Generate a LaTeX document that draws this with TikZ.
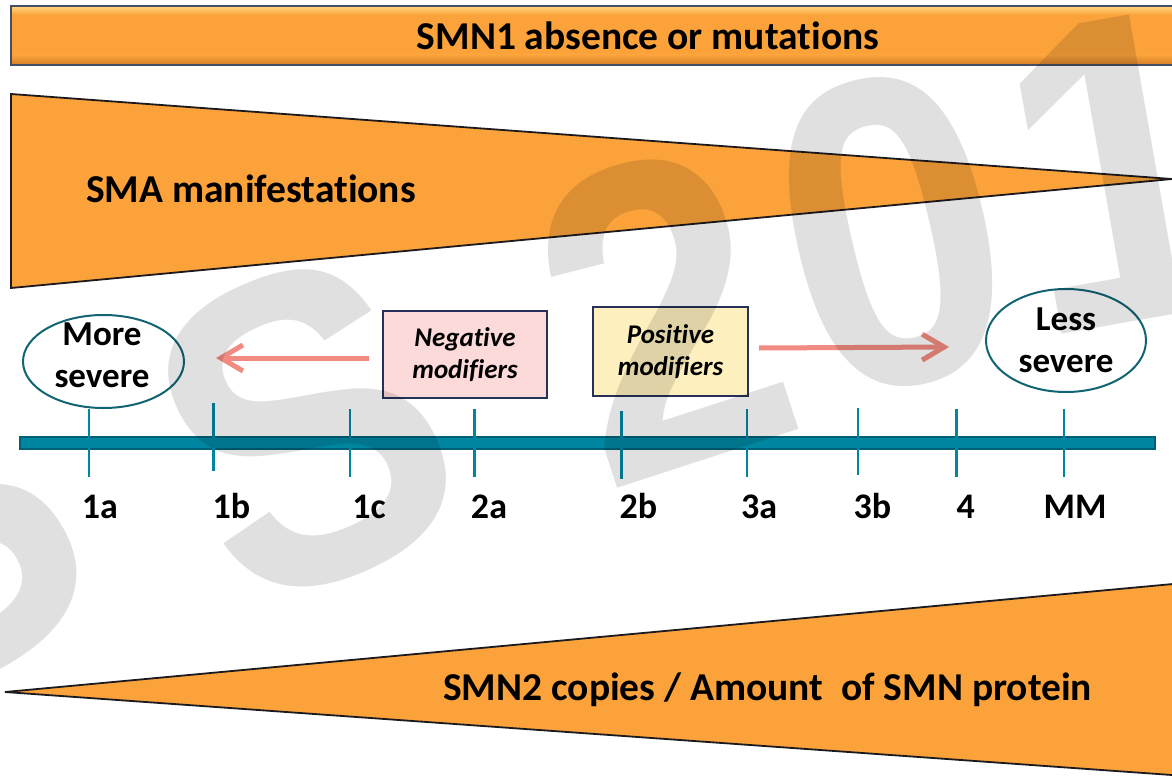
\documentclass[tikz,border=0pt]{standalone}
\usepackage{fontspec}
\setmainfont{Carlito}[Ligatures=NoCommon]
\newfontfamily\wmfont{Liberation Sans}[FakeStretch=0.9]
\usetikzlibrary{arrows.meta,shapes.geometric}

\definecolor{barorange}{RGB}{251,163,58}
\definecolor{barlight}{RGB}{255,214,125}
\definecolor{bardark}{RGB}{212,126,40}
\definecolor{barline}{RGB}{68,78,100}
\definecolor{edgedark}{RGB}{28,26,30}
\definecolor{axisteal}{RGB}{0,134,160}
\definecolor{axisedge}{RGB}{0,96,118}
\definecolor{ringteal}{RGB}{18,100,115}
\definecolor{boxline}{RGB}{38,48,88}
\definecolor{negfill}{RGB}{252,218,218}
\definecolor{posfill}{RGB}{253,240,190}
\definecolor{salmon}{RGB}{241,138,128}

\begin{document}
\begin{tikzpicture}[x=1pt, y=-1pt,
  wedge/.style={fill=barorange, draw=edgedark, line width=1.8pt, line join=miter},
  headline/.style={font=\fontsize{39.5}{44}\selectfont\bfseries, inner sep=0pt},
  lbl/.style={font=\fontsize{36}{40}\selectfont\bfseries, inner sep=0pt, anchor=base},
  ring/.style={ellipse, draw=ringteal, line width=2pt, inner sep=0pt},
  ringtext/.style={font=\fontsize{35}{42}\selectfont\bfseries, inner sep=0pt, align=center, anchor=north},
  modbox/.style={rectangle, draw=boxline, line width=2pt, inner sep=0pt, align=center,
                 font=\fontsize{27}{32}\selectfont\bfseries\itshape},
  modarrow/.style={draw=salmon, line width=5pt, -{Straight Barb[length=22pt,width=26pt]}},
  tickmark/.style={draw=axisteal, line width=2.5pt},
  wmglyph/.style={inner sep=0pt, text=black, text opacity=0.12,
                  font=\wmfont\bfseries\fontsize{440}{440}\selectfont},
]
\useasboundingbox (0,0) rectangle (1172,776);
\fill[white] (0,0) rectangle (1172,776);

\begin{scope}
\clip (0,0) rectangle (1172,776);

% bevelled banner across the top
\fill[barorange] (11,6) rectangle (1190,65);
\shade[top color=barlight, bottom color=barorange] (11,6) rectangle (1190,15);
\shade[top color=barorange, bottom color=bardark] (11,55) rectangle (1190,65);
\draw[barline, line width=1.8pt] (11,6) rectangle (1190,65);
\node[headline, anchor=base] (smn1) at (648,50) {SMN1 absence or mutations};

% wedge narrowing to the right
\path[wedge] (11,94) -- (1172,179) -- (11,288) -- cycle;
\node[headline, anchor=base west] (sma) at (86,202) {SMA manifestations};

% wedge widening to the right
\path[wedge] (5,692) -- (1200,581.5) -- (1200,777) -- cycle;
\node[headline, anchor=base west] (smn2) at (443,700) {SMN2 copies / Amount~ of SMN protein};
\end{scope}

% severity axis
\draw[fill=axisteal, draw=axisedge, line width=1.2pt] (20,437) rectangle (1155,449);
\foreach \x/\t/\b in {89/409/477, 213.5/403/471, 350/409/477, 474.5/409/477,
                      621.5/411/479, 747/409/477, 858/408/475, 956.6/409/477, 1064/409/477}
  \draw[tickmark] (\x,\t) -- (\x,\b);

\node[lbl] (l1a) at (100,518) {1a};
\node[lbl] (l1b) at (231.5,518) {1b};
\node[lbl] (l1c) at (369,518) {1c};
\node[lbl] (l2a) at (489,518) {2a};
\node[lbl] (l2b) at (638.5,518) {2b};
\node[lbl] (l3a) at (759,518) {3a};
\node[lbl] (l3b) at (872.5,518) {3b};
\node[lbl] (l4) at (965.7,518) {4};
\node[lbl] (lmm) at (1075,518) {MM};

% severity poles
\node[ring, minimum width=161pt, minimum height=93pt] (more) at (103.5,361.5) {};
\node[ringtext] (moretext) at (102,323) {More\\severe};
\node[ring, minimum width=160pt, minimum height=103pt] (less) at (1066,340.5) {};
\node[ringtext] (lesstext) at (1066,308) {Less\\severe};

% modifier boxes
\node[modbox, fill=negfill, minimum width=164pt, minimum height=87pt] (neg) at (465,354.5) {Negative\\modifiers};
\node[modbox, fill=posfill, minimum width=155pt, minimum height=89pt] (pos) at (670.5,351.5) {Positive\\modifiers};

\draw[modarrow] ([shift={(-13,3.5)}]neg.west) -- ([shift={(31,-3.5)}]more.east);
\draw[modarrow] ([shift={(10,-3.5)}]pos.east) -- ([shift={(-36,6.5)}]less.west);

% faint watermark glyphs laid over everything, set along a gentle arc
\begin{scope}
\clip (0,0) rectangle (1172,776);
\node[wmglyph, rotate=30] (wmS1) at (-70,530) {S};
\node[wmglyph, rotate=24] (wmS2) at (305,428) {S};
\node[wmglyph, rotate=18] (wm2) at (662,312) {2};
\node[wmglyph, rotate=13] (wm0) at (892,232) {0};
\node[wmglyph, rotate=10] (wm1) at (1120,170) {1};
\end{scope}
\end{tikzpicture}
\end{document}
